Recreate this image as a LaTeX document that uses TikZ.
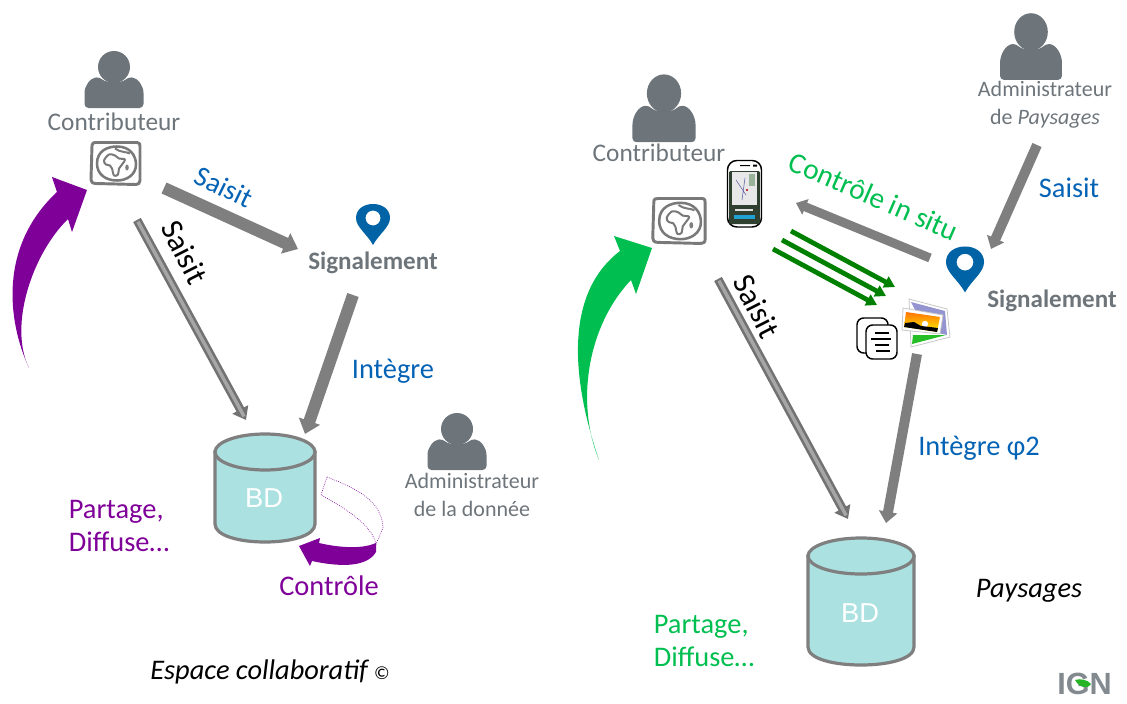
\documentclass[tikz,border=0pt]{standalone}
\usepackage{fontspec}
\setmainfont{Carlito}
\newfontfamily\bdfont{Liberation Sans}
\usetikzlibrary{arrows.meta}
\definecolor{pgray}{HTML}{6D757B}
\definecolor{agray}{HTML}{7F7F7F}
\definecolor{cblue}{HTML}{0563B5}
\definecolor{cpurple}{HTML}{7F0098}
\definecolor{cgreen}{HTML}{00BF50}
\definecolor{dgreen}{HTML}{008000}
\definecolor{pinblue}{HTML}{0063A6}
\definecolor{cyl}{HTML}{ACE1E2}
\definecolor{phonedark}{HTML}{2F3F30}
\tikzset{
  lbl/.style={font=\fontsize{21.3}{24.5}\selectfont, inner sep=0pt, align=left},
  rlbl/.style={font=\fontsize{23.5}{25}\selectfont, inner sep=0pt, align=left},
  glbl/.style={font=\fontsize{16.5}{21}\selectfont, text=pgray, inner sep=0pt, align=center},
  clbl/.style={font=\fontsize{19}{21}\selectfont, text=pgray, inner sep=0pt, align=center},
  blbl/.style={font=\fontsize{18.8}{21}\selectfont\bfseries, text=pgray, inner sep=0pt, align=center},
  bdlbl/.style={text=white, font=\bdfont\fontsize{20.5}{22}\selectfont, inner sep=0pt},
  fat/.style={draw=agray, line width=#1*0.75pt, -{Triangle[length=#1*0.85pt, width=#1*1.35pt]}},
  thinarrow/.style={draw=dgreen, line width=3.6pt, -{Triangle[length=8pt, width=9pt]}},
  icon/.style={draw=agray!95!black, line width=2.2pt, line join=round},
  dblo/.style={draw=agray!90!black, line width=6.5pt, -{Triangle[length=9pt,width=13pt]}},
  dbli/.style={draw=gray!60!white!75!gray, line width=2.6pt, shorten >=3pt, shorten <=1.5pt},
}
\newcommand{\personicon}[4]{%
 \begin{scope}[shift={(#1,#2)}, xscale=#3, yscale=#4]
  \fill[pgray] (0,-24) ellipse (16 and 16);
  \fill[pgray, rounded corners=3] (-29.5,17) -- (-29.5,6) .. controls (-29.5,-5) and (-24,-13) .. (-14,-14) .. controls (-8,-8) and (8,-8) .. (14,-14) .. controls (24,-13) and (29.5,-5) .. (29.5,6) -- (29.5,17) -- cycle;
 \end{scope}}
\newcommand{\globeicon}[3]{%
 \begin{scope}[shift={(#1,#2)}, scale=#3]
  \draw[icon] (-24,-18) .. controls (-24,-21) and (-22,-21) .. (-20,-21) -- (21,-21) .. controls (24,-21) and (24,-19) .. (24,-17) -- (24,17) .. controls (24,20) and (22,21) .. (20,21) -- (-20,20) .. controls (-24,20) and (-25,18) .. (-25,16) -- cycle;
  \draw[icon, line width=1.9pt] (-19,0) .. controls (-19,-13) and (-8,-17) .. (1,-17) .. controls (14,-17) and (20,-8) .. (20,1) .. controls (20,11) and (11,17) .. (1,17) .. controls (-10,17) and (-19,11) .. (-19,0) -- cycle;
  \draw[icon, line width=1.5pt] plot[smooth cycle, tension=0.6] coordinates {(-12,-3) (-7,-9) (-1,-8) (3,-5) (9,-4) (6,1) (3,5) (2,11) (-2,12) (-4,5) (-6,2) (-10,1)};
  \draw[icon, line width=1.5pt] (-1,-15) .. controls (4,-11) and (10,-12) .. (14,-10);
  \fill[agray] (11,4) ellipse (1.8 and 3);
 \end{scope}}
\newcommand{\pinicon}[3]{%
 \begin{scope}[shift={(#1,#2)}, scale=#3]
  \fill[pinblue, even odd rule] (0,20) .. controls (-6,9) and (-17,2) .. (-17,-7) .. controls (-17,-16) and (-9,-21) .. (0,-21) .. controls (9,-21) and (17,-16) .. (17,-7) .. controls (17,2) and (6,9) .. (0,20) -- cycle (0,-7) circle (7.5);
 \end{scope}}
\begin{document}
\begin{tikzpicture}[x=0.75pt,y=-0.75pt]
\useasboundingbox (0,0) rectangle (1127,703);
% ---- left side ----
\personicon{114}{91}{1}{1}
\node[clbl] (contribL) at (114,122) {Contributeur};
\globeicon{116}{163.5}{1}
\pinicon{373}{225}{1}
\node[blbl] (signalL) at (373,263) {Signalement};
\coordinate (a1s) at (164,188); \coordinate (a1e) at (298,249);
\path[fat=12] (a1s) -- (a1e);
\node[lbl, text=cblue, rotate=-26] (saisitA) at (224,187) {Saisit};
\node[rlbl, rotate=-63] (saisitB) at (185,252) {Saisit};
\coordinate (a2s) at (137,220); \coordinate (a2e) at (246,420);
\path[dblo] (a2s) -- (a2e);
\path[dbli] (a2s) -- (a2e);
\coordinate (a3s) at (353,295); \coordinate (a3e) at (305,434);
\path[fat=12] (a3s) -- (a3e);
\node[lbl, text=cblue] (integreL) at (393,371) {Intègre};
% cylinder left
\filldraw[draw=agray, fill=cyl, line width=2.4pt] (215,452) -- (215,524) .. controls (215,536) and (240,542) .. (265,542) .. controls (290,542) and (315,536) .. (315,524) -- (315,452) -- cycle;
\filldraw[draw=agray, fill=cyl, line width=2.4pt] (265,452) ellipse (50 and 18);
\node[bdlbl] (bdL) at (264,498) {BD};
\personicon{457}{453}{1}{1}
\node[glbl] (adminL) at (472,495) {Administrateur\\de la donnée};
\node[lbl, text=cpurple] (partageL) at (119,526) {Partage,\\Diffuse…};
\node[lbl, text=cpurple] (controle) at (329,586) {Contrôle};
\node[lbl, anchor=west, font=\fontsize{21.3}{24}\selectfont\itshape] (espace) at (150,672) {Espace collaboratif \fontsize{14}{15}\selectfont\upshape ©};
% purple curved arrows
\fill[cpurple] (29,368) .. controls (7,320) and (-1,246) .. (57,192) -- (52,177) -- (87,190) -- (72,232) -- (68,219) .. controls (33,253) and (8,325) .. (29,368) -- cycle;
\fill[cpurple] (376,543) .. controls (365,548) and (345,549) .. (319,543) -- (320,538) -- (299,546) -- (310,566) -- (312,561) .. controls (335,566) and (366,569) .. (376,552) -- cycle;
\draw[cpurple, line width=0.5pt, densely dotted] (327,477) .. controls (355,488) and (382,500) .. (383,528) -- (376,544) .. controls (372,525) and (345,508) .. (321,495) -- cycle;
% ---- right side ----
\personicon{664}{122}{1.07}{1.19}
\node[clbl] (contribR) at (659,153) {Contributeur};
\globeicon{679.5}{221}{1.07}
\personicon{1031}{60}{1.05}{1.17}
\node[glbl] (adminR) at (1045,105) {Administrateur\\de {\itshape Paysages}};
\pinicon{965}{270}{1.12}
\node[blbl] (signalR) at (1052,301) {Signalement};
% phone
\filldraw[draw=black, fill=white, line width=1.1pt, rounded corners=7] (727.5,160.5) rectangle (761.5,227);
\fill[phonedark, rounded corners=1] (729,171) rectangle (760,224);
\fill[gray!18] (732,172) rectangle (757,205);
\fill[green!15!gray!70] (749,174) rectangle (755,186);
\fill[cyan!70!teal] (734,215) rectangle (755,219);
\fill[white!75!gray] (735,209) rectangle (753,211);
\draw[blue!30!gray, line width=0.4pt] (736,180) -- (746,195) (745,178) -- (742,200);
\fill[red!70!black] (747,190) circle (1.2);
\fill[black] (740,165) rectangle (750,166) (753,164.5) rectangle (757,166.5);
\coordinate (a4s) at (930,258); \coordinate (a4e) at (796,203);
\path[fat=9] (a4s) -- (a4e);
\node[lbl, font=\fontsize{22}{25}\selectfont, text=cgreen, rotate=-23.5] (cis) at (874,196) {Contrôle in situ};
\coordinate (a5s) at (1037,145); \coordinate (a5e) at (991,249);
\path[fat=10] (a5s) -- (a5e);
\node[lbl, text=cblue] (saisitC) at (1069,188) {Saisit};
\coordinate (g1s) at (791,231); \coordinate (g1e) at (895,287);
\coordinate (g2s) at (782,240); \coordinate (g2e) at (886,296);
\coordinate (g3s) at (773,249); \coordinate (g3e) at (877,305);
\draw[thinarrow] (g1s) -- (g1e);
\draw[thinarrow] (g2s) -- (g2e);
\draw[thinarrow] (g3s) -- (g3e);
% documents
\filldraw[draw=black, fill=white, line width=1.1pt, rounded corners=5] (857,318) rectangle (888,353);
\filldraw[draw=black, fill=white, line width=1.1pt, rounded corners=5] (866,325) rectangle (897,359);
\draw[black, line width=0.9pt] (875,333) -- (889,333) (871,339) -- (891,339) (875,345) -- (889,345) (876,351) -- (890,351);
% photos
\filldraw[draw=gray!45, fill=white, line width=0.6pt] (909,299) -- (947,309) -- (950,337) -- (911,347) -- cycle;
\fill[blue!40!gray!60!white] (911,302) -- (945,311) -- (947,335) -- (925,330) -- cycle;
\fill[green!70!black!85] (913,335) -- (946,335) -- (912,344) -- cycle;
\filldraw[draw=gray!45, fill=white, line width=0.6pt] (903,308) -- (943,315) -- (940,334) -- (902,330) -- cycle;
\shade[top color=orange!90!red, bottom color=yellow!90!orange] (906,312) -- (940,317) -- (937,332) -- (904,327) -- cycle;
\fill[white] (925,324) circle (3.2);
\fill[black] (904,327) -- (905,323) -- (914,322) -- (921,326) -- (930,327) -- (938,328) -- (937,332) -- cycle;
\coordinate (a6s) at (917,354); \coordinate (a6e) at (886,523);
\path[fat=10] (a6s) -- (a6e);
\node[lbl, text=cblue] (integreR) at (979,448) {Intègre φ2};
\coordinate (a7s) at (718,279); \coordinate (a7e) at (848,519);
\path[dblo] (a7s) -- (a7e);
\path[dbli] (a7s) -- (a7e);
\node[rlbl, rotate=-63] (saisitD) at (757,306) {Saisit};
% cylinder right
\filldraw[draw=agray, fill=cyl, line width=2.4pt] (808,556) -- (808,647) .. controls (808,659) and (834,665) .. (861,665) .. controls (888,665) and (914,659) .. (914,647) -- (914,556) -- cycle;
\filldraw[draw=agray, fill=cyl, line width=2.4pt] (861,556) ellipse (53 and 18);
\node[bdlbl] (bdR) at (860,613) {BD};
\node[lbl, text=cgreen] (partageR) at (704,641) {Partage,\\Diffuse…};
\node[lbl, font=\fontsize{21.3}{24}\selectfont\itshape] (paysages) at (1029,591) {Paysages};
% green curved arrow
\fill[cgreen] (599,460) .. controls (582,410) and (553,302) .. (620,251) -- (614,236) -- (652,248) -- (636,294) -- (631,280) .. controls (588,325) and (575,402) .. (599,460) -- cycle;
% IGN
\node[text=pgray!85, font=\bdfont\fontsize{23}{24}\selectfont\bfseries, inner sep=0pt] (ign) at (1084.5,684) {IGN};
\fill[green!65!black!85] (1075,680) .. controls (1080,678) and (1088,680) .. (1091,684) .. controls (1087,690) and (1079,687) .. (1075,680) -- cycle;
\end{tikzpicture}
\end{document}
